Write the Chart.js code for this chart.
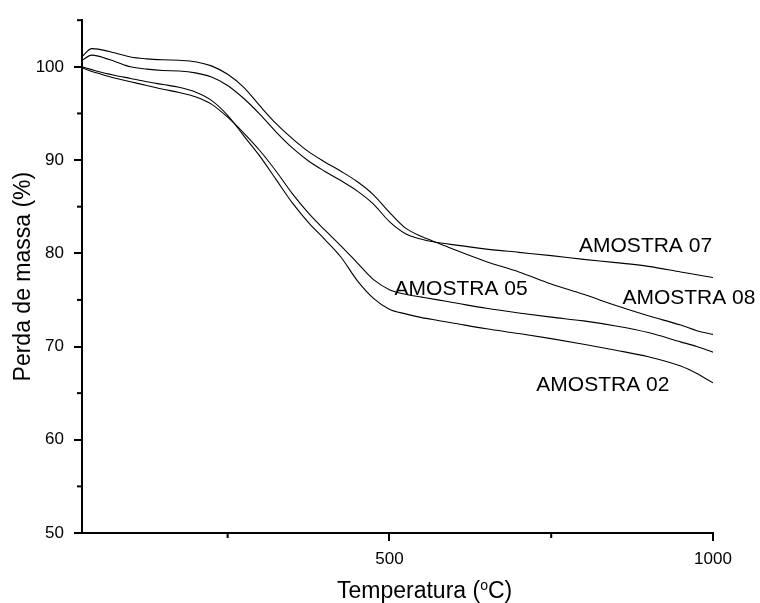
<!DOCTYPE html>
<html>
<head>
<meta charset="utf-8">
<script src="https://cdn.jsdelivr.net/npm/chart.js@4"></script>
<style>
  body { margin: 0; background: #fff; }
  canvas { display: block; }
</style>
</head>
<body>
<canvas id="tgaChart" width="760" height="603"></canvas>
<script>
const temperatura = [25, 40, 50, 75, 100, 125, 150, 175, 200, 225, 250, 275, 300, 325, 350, 375, 400, 425, 450, 475, 500, 525, 550, 575, 600, 650, 700, 750, 800, 850, 900, 950, 975, 1000];

const amostra08 = [101.1, 101.95, 101.9, 101.5, 101.05, 100.85, 100.75, 100.7, 100.55, 100.1, 99.2, 97.8, 95.8, 93.9, 92.3, 90.9, 89.8, 88.8, 87.7, 86.3, 84.4, 82.7, 81.8, 81.1, 80.4, 79.1, 78.0, 76.7, 75.6, 74.4, 73.3, 72.3, 71.7, 71.3];
const amostra07 = [100.7, 101.25, 101.15, 100.6, 100.0, 99.75, 99.6, 99.55, 99.35, 98.9, 98.0, 96.6, 94.9, 93.0, 91.3, 89.9, 88.8, 87.8, 86.7, 85.3, 83.4, 82.1, 81.5, 81.15, 80.9, 80.45, 80.1, 79.75, 79.35, 79.0, 78.6, 78.0, 77.7, 77.4];
const amostra05 = [99.9, 99.5, 99.3, 98.8, 98.4, 98.0, 97.6, 97.25, 96.8, 96.0, 94.6, 92.9, 91.0, 88.8, 86.4, 84.3, 82.5, 80.8, 79.0, 77.2, 76.1, 75.6, 75.3, 75.0, 74.7, 74.1, 73.6, 73.15, 72.75, 72.2, 71.5, 70.5, 70.0, 69.4];
const amostra02 = [100.0, 99.7, 99.5, 99.1, 98.75, 98.4, 98.1, 97.8, 97.3, 96.4, 94.8, 92.6, 90.4, 87.9, 85.4, 83.3, 81.5, 79.6, 77.1, 75.2, 74.0, 73.5, 73.1, 72.8, 72.5, 71.9, 71.4, 70.85, 70.25, 69.6, 68.9, 67.9, 67.1, 66.1];

// curve labels, placed in data units (left edge, baseline)
const labelText = ["AMOSTRA 07", "AMOSTRA 08", "AMOSTRA 05", "AMOSTRA 02"];
const labelX = [793, 860, 508, 727];
const labelY = [80.15, 74.6, 75.5, 65.2];

const yMajorTicks = [50, 60, 70, 80, 90, 100];
const yMinorTicks = [55, 65, 75, 85, 95, 105];
const xMajorTicks = [500, 1000];
const xMinorTicks = [250, 750];

const fontFamily = "'Liberation Sans', Arial, sans-serif";

function toPoints(ys) {
  return temperatura.map((t, i) => ({ x: t, y: ys[i] }));
}

function serie(label, ys) {
  return {
    label: label,
    data: toPoints(ys),
    borderColor: "#000",
    borderWidth: 1.1,
    pointRadius: 0,
    cubicInterpolationMode: "monotone",
    fill: false,
  };
}

// minor ticks, curve labels and axis titles
const extras = {
  id: "extras",
  afterDraw(chart) {
    const ctx = chart.ctx;
    const xs = chart.scales.x;
    const ys = chart.scales.y;
    const area = chart.chartArea;
    ctx.save();
    ctx.strokeStyle = "#000";
    ctx.lineWidth = 2;
    yMinorTicks.forEach((v) => {
      const py = ys.getPixelForValue(v);
      ctx.beginPath();
      ctx.moveTo(area.left - 5, py);
      ctx.lineTo(area.left, py);
      ctx.stroke();
    });
    xMinorTicks.forEach((v) => {
      const px = xs.getPixelForValue(v);
      ctx.beginPath();
      ctx.moveTo(px, area.bottom);
      ctx.lineTo(px, area.bottom + 5);
      ctx.stroke();
    });

    ctx.fillStyle = "#000";
    ctx.textBaseline = "alphabetic";
    ctx.textAlign = "left";
    ctx.font = "21px " + fontFamily;
    labelText.forEach((txt, i) => {
      ctx.fillText(txt, xs.getPixelForValue(labelX[i]), ys.getPixelForValue(labelY[i]));
    });

    // x title with superscript o
    ctx.font = "23px " + fontFamily;
    const part1 = "Temperatura (";
    let x0 = 337;
    const base = 598;
    ctx.fillText(part1, x0, base);
    x0 += ctx.measureText(part1).width;
    ctx.font = "14px " + fontFamily;
    ctx.fillText("o", x0, base - 8);
    x0 += ctx.measureText("o").width;
    ctx.font = "23px " + fontFamily;
    ctx.fillText("C)", x0, base);

    // y title
    ctx.translate(30, (area.top + area.bottom) / 2);
    ctx.rotate(-Math.PI / 2);
    ctx.textAlign = "center";
    ctx.fillText("Perda de massa (%)", 0, 0);
    ctx.restore();
  },
};

const ctx = document.getElementById("tgaChart").getContext("2d");
const tgaChart = new Chart(ctx, {
  type: "line",
  data: {
    datasets: [
      serie("AMOSTRA 08", amostra08),
      serie("AMOSTRA 07", amostra07),
      serie("AMOSTRA 05", amostra05),
      serie("AMOSTRA 02", amostra02),
    ],
  },
  options: {
    responsive: false,
    animation: false,
    layout: { padding: { top: 17, right: 47, left: 0, bottom: 0 } },
    plugins: {
      legend: { display: false },
      tooltip: { enabled: false },
    },
    scales: {
      x: {
        type: "linear",
        min: 25,
        max: 1000,
        afterBuildTicks: (scale) => {
          scale.ticks = xMajorTicks.map((v) => ({ value: v }));
        },
        afterFit: (scale) => {
          scale.height = 70;
        },
        grid: {
          drawOnChartArea: false,
          color: "#000",
          lineWidth: 2,
          tickLength: 8,
        },
        border: { display: true, color: "#000", width: 2 },
        ticks: {
          color: "#000",
          font: { family: fontFamily, size: 17 },
          padding: 8,
          maxRotation: 0,
          callback: (v) => String(v),
        },
      },
      y: {
        min: 50,
        max: 105,
        afterBuildTicks: (scale) => {
          scale.ticks = yMajorTicks.map((v) => ({ value: v }));
        },
        afterFit: (scale) => {
          scale.width = 82;
        },
        grid: {
          drawOnChartArea: false,
          color: "#000",
          lineWidth: 2,
          tickLength: 8,
        },
        border: { display: true, color: "#000", width: 2 },
        ticks: {
          color: "#000",
          font: { family: fontFamily, size: 17 },
          padding: 10,
          callback: (v) => String(v),
        },
      },
    },
  },
  plugins: [extras],
});
</script>
</body>
</html>
